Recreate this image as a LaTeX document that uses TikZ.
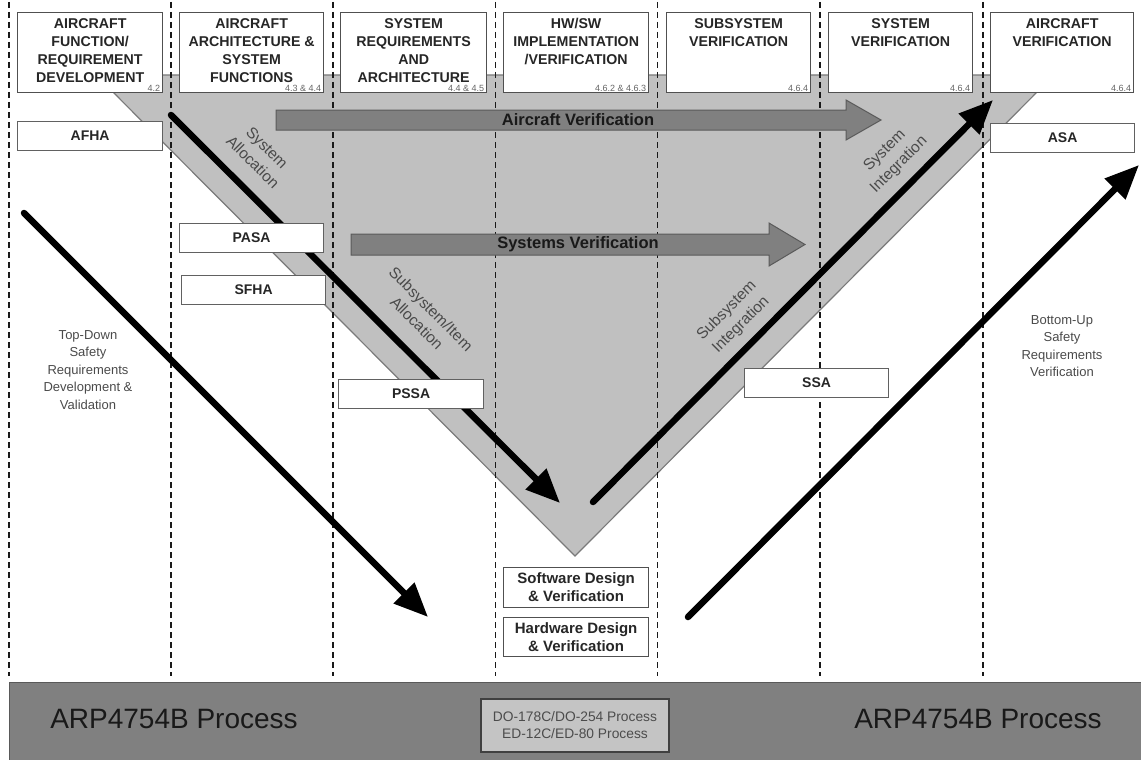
\documentclass[tikz,border=0pt]{standalone}
\usepackage{fontspec}
\setmainfont{Liberation Sans}
\usetikzlibrary{arrows.meta}

\definecolor{vfill}{HTML}{C0C0C0}
\definecolor{vedge}{HTML}{7A7A7A}
\definecolor{gfill}{HTML}{808080}
\definecolor{gedge}{HTML}{5A5A5A}
\definecolor{boxedge}{HTML}{505050}
\definecolor{softtext}{HTML}{4A4A4A}
\definecolor{bar}{HTML}{808080}
\definecolor{barbox}{HTML}{C4C4C4}

\begin{document}
\begin{tikzpicture}[x=1pt,y=-1pt,
  hbox/.style={draw=boxedge, line width=1.3pt, fill=white, inner sep=0pt,
    anchor=north west, minimum width=145pt, minimum height=80pt},
  htext/.style={anchor=north, align=center, inner sep=0pt, text=black!85,
    font=\bfseries\fontsize{14.2}{18}\selectfont},
  secno/.style={anchor=south east, inner sep=0pt, text=black!60,
    font=\fontsize{9}{9}\selectfont},
  sbox/.style={draw=boxedge!90, line width=1.2pt, fill=white, inner sep=0pt,
    anchor=north west, minimum width=144pt, minimum height=29pt,
    font=\bfseries\fontsize{14}{16}\selectfont, text=black!85},
  dbox/.style={draw=boxedge, line width=1.2pt, fill=white, inner sep=0pt,
    anchor=north west, minimum width=145pt, align=center,
    font=\bfseries\fontsize{15}{18}\selectfont, text=black!85},
  colline/.style={draw=black!90, line width=1.9pt, dash pattern=on 6pt off 4pt},
  bigarrow/.style={line width=6.5pt, line cap=round,
    -{Triangle[length=34pt,width=28pt]}},
  garrow/.style={fill=gfill, draw=gedge, line width=1pt},
  gtext/.style={inner sep=0pt, text=black!90,
    font=\bfseries\fontsize{16.5}{18}\selectfont},
  steplabel/.style={align=center, inner sep=0pt, text=softtext,
    font=\fontsize{15.5}{20}\selectfont},
  sidetext/.style={align=center, inner sep=0pt, text=softtext,
    font=\fontsize{13}{17.5}\selectfont},
  bartext/.style={inner sep=0pt, text=black!90,
    font=\fontsize{28}{30}\selectfont}
]
\path[use as bounding box] (0,0) rectangle (1141,760);

% the V of the development / integration process
\filldraw[fill=vfill, draw=vedge, line width=1.2pt]
  (96,75) -- (1054,75) -- (575,556) -- cycle;

% column separators
\foreach \cx in {9,171,333,495.5,657.5,820,983}
  \draw[colline] (\cx,2) -- (\cx,676);

% broad verification arrows
\draw[garrow] (276,110) -- (846,110) -- (846,100) -- (881,120) -- (846,140)
  -- (846,130) -- (276,130) -- cycle;
\node[gtext] (av) at (578,120) {Aircraft Verification};
\draw[garrow] (351,234) -- (769,234) -- (769,223) -- (805,244.5) -- (769,266)
  -- (769,255) -- (351,255) -- cycle;
\node[gtext] (sv) at (578,244.5) {Systems Verification};

% allocation / integration arrows
\coordinate (sa0) at (171,115);
\coordinate (sa1) at (560,503);
\draw[bigarrow] (sa0) -- (sa1);
\coordinate (si0) at (593,502);
\coordinate (si1) at (993,100);
\draw[bigarrow] (si0) -- (si1);
\coordinate (td0) at (24,213);
\coordinate (td1) at (428,617);
\draw[bigarrow] (td0) -- (td1);
\coordinate (bu0) at (688,617);
\coordinate (bu1) at (1139,165);
\draw[bigarrow] (bu0) -- (bu1);

% phase headers
\node[hbox] (h1) at (17,12) {};
\node[htext] (h1t) at ([yshift=-6pt]h1.north) {AIRCRAFT\\FUNCTION/\\REQUIREMENT\\DEVELOPMENT};
\node[secno] (h1n) at ([xshift=-3pt,yshift=2pt]h1.south east) {4.2};

\node[hbox, minimum width=144pt] (h2) at (179,12) {};
\node[htext] (h2t) at ([yshift=-6pt]h2.north) {AIRCRAFT\\ARCHITECTURE \&\\SYSTEM\\FUNCTIONS};
\node[secno] (h2n) at ([xshift=-3pt,yshift=2pt]h2.south east) {4.3 \& 4.4};

\node[hbox, minimum width=146pt] (h3) at (340,12) {};
\node[htext] (h3t) at ([yshift=-6pt]h3.north) {SYSTEM\\REQUIREMENTS\\AND\\ARCHITECTURE};
\node[secno] (h3n) at ([xshift=-3pt,yshift=2pt]h3.south east) {4.4 \& 4.5};

\node[hbox] (h4) at (503,12) {};
\node[htext] (h4t) at ([yshift=-6pt]h4.north) {HW/SW\\IMPLEMENTATION\\/VERIFICATION};
\node[secno] (h4n) at ([xshift=-3pt,yshift=2pt]h4.south east) {4.6.2 \& 4.6.3};

\node[hbox, minimum width=144pt] (h5) at (666,12) {};
\node[htext] (h5t) at ([yshift=-6pt]h5.north) {SUBSYSTEM\\VERIFICATION};
\node[secno] (h5n) at ([xshift=-3pt,yshift=2pt]h5.south east) {4.6.4};

\node[hbox, minimum width=144pt] (h6) at (828,12) {};
\node[htext] (h6t) at ([yshift=-6pt]h6.north) {SYSTEM\\VERIFICATION};
\node[secno] (h6n) at ([xshift=-3pt,yshift=2pt]h6.south east) {4.6.4};

\node[hbox, minimum width=143pt] (h7) at (990,12) {};
\node[htext] (h7t) at ([yshift=-6pt]h7.north) {AIRCRAFT\\VERIFICATION};
\node[secno] (h7n) at ([xshift=-3pt,yshift=2pt]h7.south east) {4.6.4};

% safety assessment boxes
\node[sbox, minimum width=145pt] (afha) at (17,121) {AFHA};
\node[sbox] (pasa) at (179,223) {PASA};
\node[sbox] (sfha) at (181,275) {SFHA};
\node[sbox, minimum width=145pt] (pssa) at (338,379) {PSSA};
\node[sbox] (ssa) at (744,368) {SSA};
\node[sbox] (asa) at (990,123) {ASA};

% item level boxes
\node[dbox, minimum height=40pt] (swd) at (503,567) {Software Design\\\& Verification};
\node[dbox, minimum height=39pt] (hwd) at (503,617) {Hardware Design\\\& Verification};

% labels along the V
\node[steplabel, rotate=-45] (lsa) at (260,155) {System\\Allocation};
\node[steplabel, rotate=-45] (lssa) at (424,316) {Subsystem/Item\\Allocation};
\node[steplabel, rotate=45] (lsi) at (892,158) {System\\Integration};
\node[steplabel, rotate=45] (lssi) at (734,318) {Subsystem\\Integration};

\node[sidetext] (tdl) at (88,370) {Top-Down\\Safety\\Requirements\\Development \&\\Validation};
\node[sidetext] (bul) at (1062,346) {Bottom-Up\\Safety\\Requirements\\Verification};

% process bar
\filldraw[fill=bar, draw=black!65, line width=1pt] (9,682) rectangle (1145,764);
\node[bartext] (arpl) at (174,719) {ARP4754B Process};
\node[bartext] (arpr) at (978,719) {ARP4754B Process};
\node[draw=black!75, line width=1.4pt, fill=barbox, inner sep=0pt,
  minimum width=188pt, minimum height=53pt, align=center, text=black!70,
  font=\fontsize{13.8}{17}\selectfont] (dob) at (575,725.5)
  {DO-178C/DO-254 Process\\ED-12C/ED-80 Process};
\end{tikzpicture}
\end{document}
